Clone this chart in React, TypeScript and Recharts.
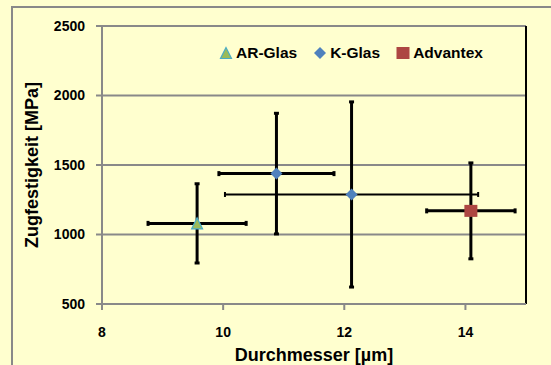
import React from 'react';
import { ScatterChart, Scatter, XAxis, YAxis, CartesianGrid, ErrorBar, Legend, ReferenceLine } from 'recharts';

// Messwerte: Durchmesser (x), Zugfestigkeit (y) mit Streuung (ex, ey)
const arGlas = [{ x: 9.57, y: 1080, ex: 0.81, ey: 285 }];
const kGlas = [{ x: 10.88, y: 1438, ex: 0.95, ey: 434 }];
const kGlas2 = [{ x: 12.12, y: 1288, ex: 2.09, ey: 666 }];
const advantex = [{ x: 14.09, y: 1170, ex: 0.73, ey: 345 }];

const seriesNames = ['AR-Glas', 'K-Glas', 'Advantex'];
const xTicks = [8, 10, 12, 14];
const yTicks = [500, 1000, 1500, 2000, 2500];

const colors: Record<string, string> = {
  'AR-Glas': '#9BBB59',
  'K-Glas': '#4F81BD',
  Advantex: '#AD4642',
};
const kinds: Record<string, string> = {
  'AR-Glas': 'triangle',
  'K-Glas': 'diamond',
  Advantex: 'square',
};

const BG = '#FFFFCF';
const GRID = '#898989';
const FONT = '"Liberation Sans", Arial, sans-serif';

function Marker({ kind, cx, cy, color }: { kind: string; cx: number; cy: number; color: string }) {
  if (kind === 'triangle') {
    return (
      <polygon
        points={`${cx},${cy - 5.5} ${cx - 5.5},${cy + 5.5} ${cx + 5.5},${cy + 5.5}`}
        fill={color}
        stroke="#4BACC6"
        strokeWidth={1.2}
      />
    );
  }
  if (kind === 'diamond') {
    return <polygon points={`${cx},${cy - 6} ${cx + 6},${cy} ${cx},${cy + 6} ${cx - 6},${cy}`} fill={color} />;
  }
  return <rect x={cx - 6.5} y={cy - 6} width={13} height={12} fill={color} />;
}

const shapeFor = (name: string) => (p: any) => <Marker kind={kinds[name]} cx={p.cx} cy={p.cy} color={colors[name]} />;

function LegendContent({ payload }: any) {
  const items = (payload || [])
    .filter((e: any) => e.type !== 'none' && seriesNames.includes(e.value))
    .sort((a: any, b: any) => seriesNames.indexOf(a.value) - seriesNames.indexOf(b.value));
  return (
    <div style={{ display: 'flex', alignItems: 'center', gap: 16, fontFamily: FONT, fontWeight: 'bold', fontSize: 15.5 }}>
      {items.map((e: any) => (
        <div key={e.value} style={{ display: 'flex', alignItems: 'center', gap: 3 }}>
          <svg width={14} height={14}>
            <Marker kind={kinds[e.value]} cx={7} cy={7} color={colors[e.value]} />
          </svg>
          <span style={{ color: '#000' }}>{e.value}</span>
        </div>
      ))}
    </div>
  );
}

const tickStyle = { fontFamily: FONT, fontWeight: 'bold', fontSize: 14, fill: '#000' };

export default function App() {
  return (
    <div style={{ position: 'fixed', left: 0, top: 0, width: 551, height: 365, background: BG, overflow: 'hidden' }}>
      <div
        style={{
          position: 'absolute',
          left: 11,
          top: 6,
          width: 600,
          height: 400,
          borderLeft: `2px solid ${GRID}`,
          borderTop: `2px solid ${GRID}`,
        }}
      />
      <ScatterChart width={551} height={365} margin={{ top: 26, right: 25, left: 20, bottom: 0 }} style={{ position: 'absolute', left: 0, top: 0 }}>
        <CartesianGrid vertical={false} stroke={GRID} strokeWidth={2} />
        <XAxis
          type="number"
          dataKey="x"
          domain={[8, 15]}
          ticks={xTicks}
          height={61}
          tick={tickStyle}
          tickSize={6}
          tickMargin={17}
          axisLine={{ stroke: GRID, strokeWidth: 2 }}
          tickLine={{ stroke: GRID, strokeWidth: 2 }}
          label={{
            value: 'Durchmesser [µm]',
            position: 'insideBottom',
            offset: 4,
            style: { fontFamily: FONT, fontWeight: 'bold', fontSize: 18, fill: '#000' },
          }}
        />
        <YAxis
          type="number"
          dataKey="y"
          domain={[500, 2500]}
          ticks={yTicks}
          width={82}
          tick={tickStyle}
          tickSize={6}
          tickMargin={11}
          axisLine={{ stroke: GRID, strokeWidth: 2 }}
          tickLine={{ stroke: GRID, strokeWidth: 2 }}
          label={{
            value: 'Zugfestigkeit [MPa]',
            angle: -90,
            position: 'insideLeft',
            offset: 12,
            style: { textAnchor: 'middle', fontFamily: FONT, fontWeight: 'bold', fontSize: 18, fill: '#000' },
          }}
        />
        <ReferenceLine x={15} stroke="#000" strokeWidth={2} />
        <Legend
          layout="horizontal"
          verticalAlign="middle"
          align="center"
          content={<LegendContent />}
          wrapperStyle={{ left: 219, top: 44, width: 300 }}
        />
        <Scatter name="AR-Glas" data={arGlas} fill={colors['AR-Glas']} shape={shapeFor('AR-Glas')} isAnimationActive={false}>
          <ErrorBar dataKey="ex" direction="x" width={2.5} strokeWidth={3} stroke="#000" />
          <ErrorBar dataKey="ey" direction="y" width={2.5} strokeWidth={3} stroke="#000" />
        </Scatter>
        <Scatter name="K-Glas" data={kGlas} fill={colors['K-Glas']} shape={shapeFor('K-Glas')} isAnimationActive={false}>
          <ErrorBar dataKey="ex" direction="x" width={2.5} strokeWidth={3} stroke="#000" />
          <ErrorBar dataKey="ey" direction="y" width={2.5} strokeWidth={3} stroke="#000" />
        </Scatter>
        <Scatter name="K-Glas " legendType="none" data={kGlas2} fill={colors['K-Glas']} shape={shapeFor('K-Glas')} isAnimationActive={false}>
          <ErrorBar dataKey="ex" direction="x" width={2.5} strokeWidth={2} stroke="#000" />
          <ErrorBar dataKey="ey" direction="y" width={2.5} strokeWidth={3} stroke="#000" />
        </Scatter>
        <Scatter name="Advantex" data={advantex} fill={colors.Advantex} shape={shapeFor('Advantex')} isAnimationActive={false}>
          <ErrorBar dataKey="ex" direction="x" width={2.5} strokeWidth={3} stroke="#000" />
          <ErrorBar dataKey="ey" direction="y" width={2.5} strokeWidth={3} stroke="#000" />
        </Scatter>
      </ScatterChart>
    </div>
  );
}
